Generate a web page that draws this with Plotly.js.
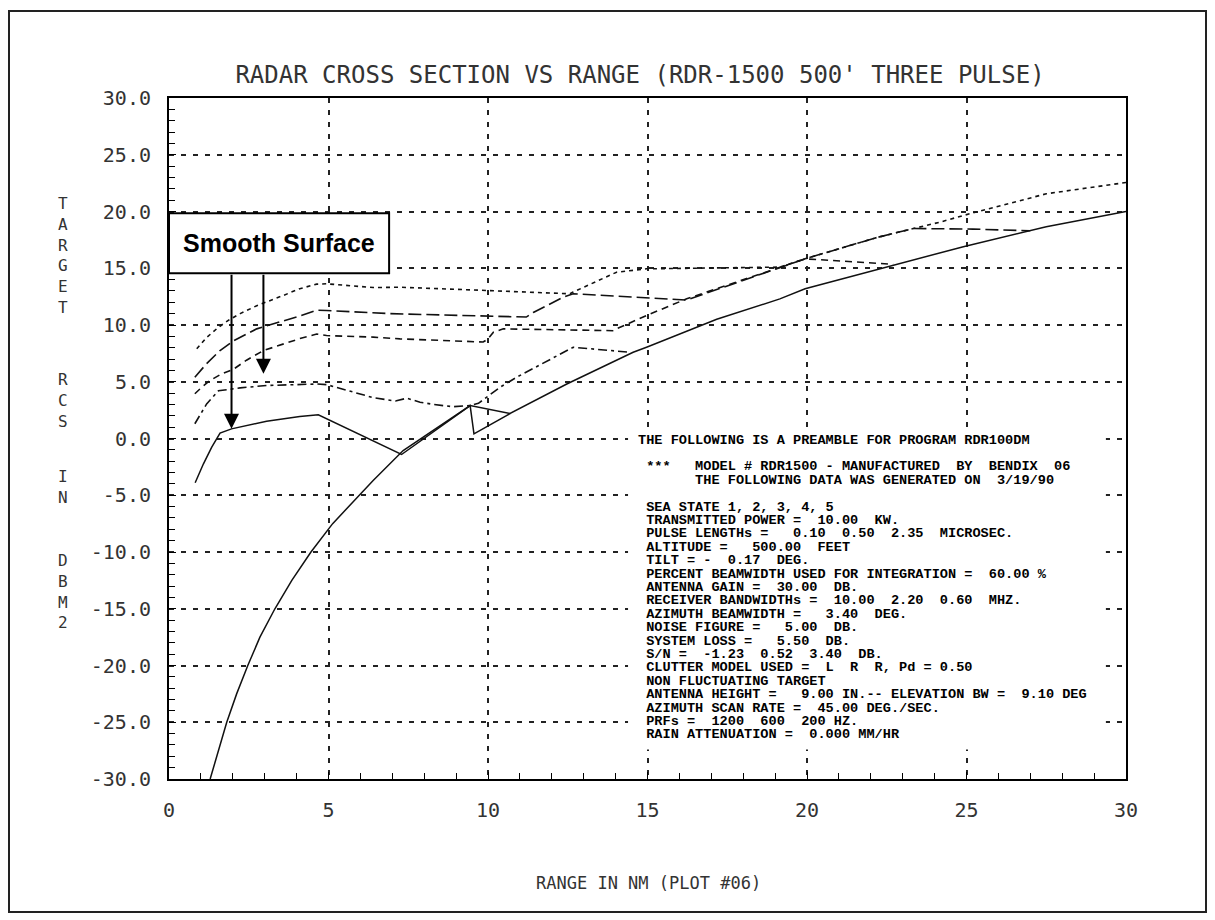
<!DOCTYPE html>
<html>
<head>
<meta charset="utf-8">
<script src="https://cdn.plot.ly/plotly-3.0.1.min.js"></script>
<style>
  html, body { margin: 0; padding: 0; background: #fff; }
  #chart { width: 1215px; height: 920px; }
</style>
</head>
<body>
<div id="chart"></div>
<script>
// Axis ticks
const rangeTicks = [0, 5, 10, 15, 20, 25, 30];
const rangeTickText = ['0', '5', '10', '15', '20', '25', '30'];
const rcsTicks = [-30, -25, -20, -15, -10, -5, 0, 5, 10, 15, 20, 25, 30];
const rcsTickText = ['-30.0', '-25.0', '-20.0', '-15.0', '-10.0', '-5.0', '0.0',
                     '5.0', '10.0', '15.0', '20.0', '25.0', '30.0'];

// Noise-limited curve (solid)
const noiseX = [1.29, 1.55, 1.81, 2.12, 2.47, 2.85, 3.32, 3.85, 4.45, 5.13, 5.96, 6.4, 7.34,
                9.44, 10.69, 11.47, 12.47, 14.55, 14.97, 17.17, 19.15, 19.94, 22.08, 24.9, 27.5, 30.0];
const noiseY = [-30, -27.5, -25, -22.5, -20, -17.5, -15, -12.5, -10, -7.5, -5, -3.7, -1.06,
                2.9, 2.2, 3.35, 4.8, 7.6, 8.04, 10.5, 12.3, 13.2, 14.8, 16.9, 18.65, 20.0];

// Sea state 1 (smooth surface, solid)
const sea1X = [0.82, 1.08, 1.34, 1.6, 1.96, 3.06, 4.1, 4.68, 7.29, 9.44, 9.56, 10.69];
const sea1Y = [-3.9, -2.23, -0.76, 0.47, 0.85, 1.52, 1.94, 2.09, -1.41, 2.9, 0.41, 2.2];

// Sea state 2 (dash-dot)
const sea2X = [0.81, 1.0, 1.18, 1.55, 2.23, 3.06, 4.63, 4.94, 6.4, 7.1, 7.45, 7.87, 8.29, 8.9,
               9.44, 9.7, 10.38, 10.9, 12.67, 14.45];
const sea2Y = [1.3, 2.2, 3.05, 4.2, 4.46, 4.67, 4.8, 4.75, 3.6, 3.3, 3.55, 3.2, 3.0, 2.8,
               2.9, 3.1, 4.52, 5.4, 8.04, 7.6];

// Sea state 3 (medium dash)
const sea3X = [0.81, 1.02, 1.28, 1.65, 2.02, 2.43, 2.96, 3.48, 4.1, 4.63, 4.94, 6.4, 7.24, 9.85,
               10.0, 10.17, 10.48, 13.93, 14.03, 14.97, 16.23, 19.94, 22.7];
const sea3Y = [3.94, 4.5, 5.1, 5.7, 6.1, 6.9, 7.75, 8.25, 8.8, 9.2, 9.07, 8.93, 8.78, 8.5,
               8.78, 9.37, 9.66, 9.5, 9.66, 10.84, 12.31, 15.83, 15.35];

// Sea state 4 (long dash)
const sea4X = [0.81, 1.18, 1.6, 2.02, 2.75, 3.48, 4.1, 4.63, 4.94, 6.93, 9.96, 11.2, 11.42,
               12.36, 12.67, 16.23, 19.94, 22.18, 23.33, 25.2, 27.0];
const sea4Y = [5.4, 6.6, 7.75, 8.6, 9.66, 10.25, 10.8, 11.3, 11.28, 11.0, 10.8, 10.7, 11.1,
               12.45, 12.75, 12.2, 15.83, 17.7, 18.5, 18.45, 18.3];

// Sea state 5 (short dash)
const sea5X = [0.87, 1.18, 1.55, 1.91, 2.23, 2.75, 3.58, 4.1, 4.63, 4.94, 6.4, 7.24, 9.96,
               12.57, 12.67, 14.03, 14.97, 18.73, 19.14, 19.94, 22.18, 23.33, 24.17, 24.9,
               27.5, 29.86, 30.0];
const sea5Y = [7.9, 8.9, 9.8, 10.5, 11.0, 11.7, 12.6, 13.2, 13.6, 13.63, 13.3, 13.33, 13.04,
               12.75, 12.9, 14.65, 14.95, 15.04, 15.1, 15.83, 17.7, 18.5, 19.06, 19.65,
               21.56, 22.5, 22.55];

// Program preamble printout
const preambleLines = [
  'THE FOLLOWING IS A PREAMBLE FOR PROGRAM RDR100DM',
  '',
  ' ***   MODEL # RDR1500 - MANUFACTURED  BY  BENDIX  06',
  '       THE FOLLOWING DATA WAS GENERATED ON  3/19/90',
  '',
  ' SEA STATE 1, 2, 3, 4, 5',
  ' TRANSMITTED POWER =  10.00  KW.',
  ' PULSE LENGTHs =   0.10  0.50  2.35  MICROSEC.',
  ' ALTITUDE =   500.00  FEET',
  ' TILT = -  0.17  DEG.',
  ' PERCENT BEAMWIDTH USED FOR INTEGRATION =  60.00 %',
  ' ANTENNA GAIN =  30.00  DB.',
  ' RECEIVER BANDWIDTHs =  10.00  2.20  0.60  MHZ.',
  ' AZIMUTH BEAMWIDTH =   3.40  DEG.',
  ' NOISE FIGURE =   5.00  DB.',
  ' SYSTEM LOSS =   5.50  DB.',
  ' S/N =  -1.23  0.52  3.40  DB.',
  ' CLUTTER MODEL USED =  L  R  R, Pd = 0.50',
  ' NON FLUCTUATING TARGET',
  ' ANTENNA HEIGHT =   9.00 IN.-- ELEVATION BW =  9.10 DEG',
  ' AZIMUTH SCAN RATE =  45.00 DEG./SEC.',
  ' PRFs =  1200  600  200 HZ.',
  ' RAIN ATTENUATION =  0.000 MM/HR'
];

const yTitleWords = ['TARGET', 'RCS', 'IN', 'DBM2'];

// ---- page geometry (pixels) ----
const W = 1215, H = 920;
const M = { l: 169, r: 89, t: 98, b: 141 };
const plotW = W - M.l - M.r, plotH = H - M.t - M.b;
const px2paperX = px => (px - M.l) / plotW;
const px2paperY = py => (H - M.b - py) / plotH;

const INK = '#111';
const plotFont = 'DejaVu Sans Mono, monospace';

function curve(x, y, dash, width) {
  return {
    x: x, y: y, type: 'scatter', mode: 'lines', hoverinfo: 'skip',
    line: { color: INK, width: width || 1.6, dash: dash }
  };
}

const traces = [
  curve(noiseX, noiseY, 'solid', 1.5),
  curve(sea1X, sea1Y, 'solid', 1.5),
  curve(sea2X, sea2Y, '9px,4px,3px,4px'),
  curve(sea3X, sea3Y, '7px,5px'),
  curve(sea4X, sea4Y, '13px,5px'),
  curve(sea5X, sea5Y, '4px,4px')
];

const annotations = [];

// x-axis title
annotations.push({
  xref: 'paper', yref: 'paper', x: px2paperX(648), y: px2paperY(883),
  xanchor: 'center', yanchor: 'middle', showarrow: false,
  text: 'RANGE IN NM (PLOT #06)',
  font: { family: plotFont, size: 17, color: '#333' }
});

// vertical stacked y-axis title, one column of letters per word
const wordTops = [203, 380, 477, 560];
const letterSize = 16, letterStep = letterSize * 1.3;
yTitleWords.forEach((word, wi) => {
  const centre = wordTops[wi] + (word.length - 1) * letterStep / 2;
  annotations.push({
    xref: 'paper', yref: 'paper',
    x: px2paperX(63), y: px2paperY(centre),
    xanchor: 'center', yanchor: 'middle', showarrow: false, align: 'center',
    text: word.split('').join('<br>'),
    font: { family: plotFont, size: letterSize, color: '#333' }
  });
});

// "Smooth Surface" callout
const boxLeft = 0, boxRight = 6.9, boxBottom = 14.56, boxTop = 19.85;
annotations.push({
  xref: 'x', yref: 'y', x: (boxLeft + boxRight) / 2, y: (boxBottom + boxTop) / 2,
  xanchor: 'center', yanchor: 'middle', showarrow: false,
  text: '<b>Smooth Surface</b>',
  font: { family: 'Liberation Sans, Arial, sans-serif', size: 25, color: '#000' }
});
const arrowTips = [[1.96, 0.85], [2.96, 5.7]];
arrowTips.forEach(([tx, ty]) => {
  annotations.push({
    xref: 'x', yref: 'y', x: tx, y: ty, axref: 'x', ayref: 'y', ax: tx, ay: boxBottom,
    text: '', showarrow: true, arrowhead: 2, arrowsize: 1.5, arrowwidth: 2,
    arrowcolor: '#000', standoff: 0, startstandoff: 0
  });
});

// preamble printout lines
const lineTop = 440, linePitch = 13.4;
preambleLines.forEach((txt, i) => {
  if (!txt) return;
  annotations.push({
    xref: 'paper', yref: 'paper', x: px2paperX(636), y: px2paperY(lineTop + i * linePitch),
    xanchor: 'left', yanchor: 'middle', showarrow: false, align: 'left',
    text: txt.replace(/ /g, '\u00a0'),
    font: { family: 'Liberation Mono, Courier New, monospace', size: 13.6, color: '#000', weight: 'bold' }
  });
});

const shapes = [
  // callout frame
  { type: 'rect', xref: 'x', yref: 'y', x0: boxLeft, x1: boxRight, y0: boxBottom, y1: boxTop,
    fillcolor: '#fff', line: { color: '#000', width: 2 }, layer: 'above' },
  // blank backing behind the printout
  { type: 'rect', xref: 'x', yref: 'y', x0: 14.39, x1: 29.37, y0: -27.4, y1: 0.62,
    fillcolor: '#fff', line: { width: 0 }, layer: 'above' },
  // page frame
  { type: 'rect', xref: 'paper', yref: 'paper',
    x0: px2paperX(9), x1: px2paperX(1206), y0: px2paperY(912), y1: px2paperY(11),
    fillcolor: 'rgba(0,0,0,0)', line: { color: '#222', width: 2 } }
];

function axis(range, vals, text) {
  return {
    range: range, tickmode: 'array', tickvals: vals, ticktext: text,
    showgrid: true, gridcolor: '#222', gridwidth: 2, griddash: '5px,7px',
    zeroline: false, showline: true, mirror: true, linecolor: '#000', linewidth: 2,
    ticks: 'inside', ticklen: 7, tickwidth: 1, tickcolor: '#000',
    minor: { tickmode: 'linear', tick0: 0, dtick: 1, ticks: 'inside', ticklen: 6,
             tickwidth: 1, tickcolor: '#000', showgrid: false },
    tickfont: { family: plotFont, size: 20, color: '#333' },
    ticklabelstandoff: 12, fixedrange: true
  };
}

const layout = {
  width: W, height: H, margin: M, showlegend: false,
  paper_bgcolor: '#fff', plot_bgcolor: '#fff',
  title: {
    text: "RADAR CROSS SECTION VS RANGE (RDR-1500 500' THREE PULSE)",
    font: { family: plotFont, size: 24, color: '#333' },
    xref: 'paper', x: px2paperX(640), xanchor: 'center',
    yref: 'container', y: 1 - 75 / H, yanchor: 'middle'
  },
  xaxis: axis([0, 30], rangeTicks, rangeTickText),
  yaxis: axis([-30, 30], rcsTicks, rcsTickText),
  annotations: annotations,
  shapes: shapes
};

Plotly.newPlot('chart', traces, layout, { displayModeBar: false });
</script>
</body>
</html>
